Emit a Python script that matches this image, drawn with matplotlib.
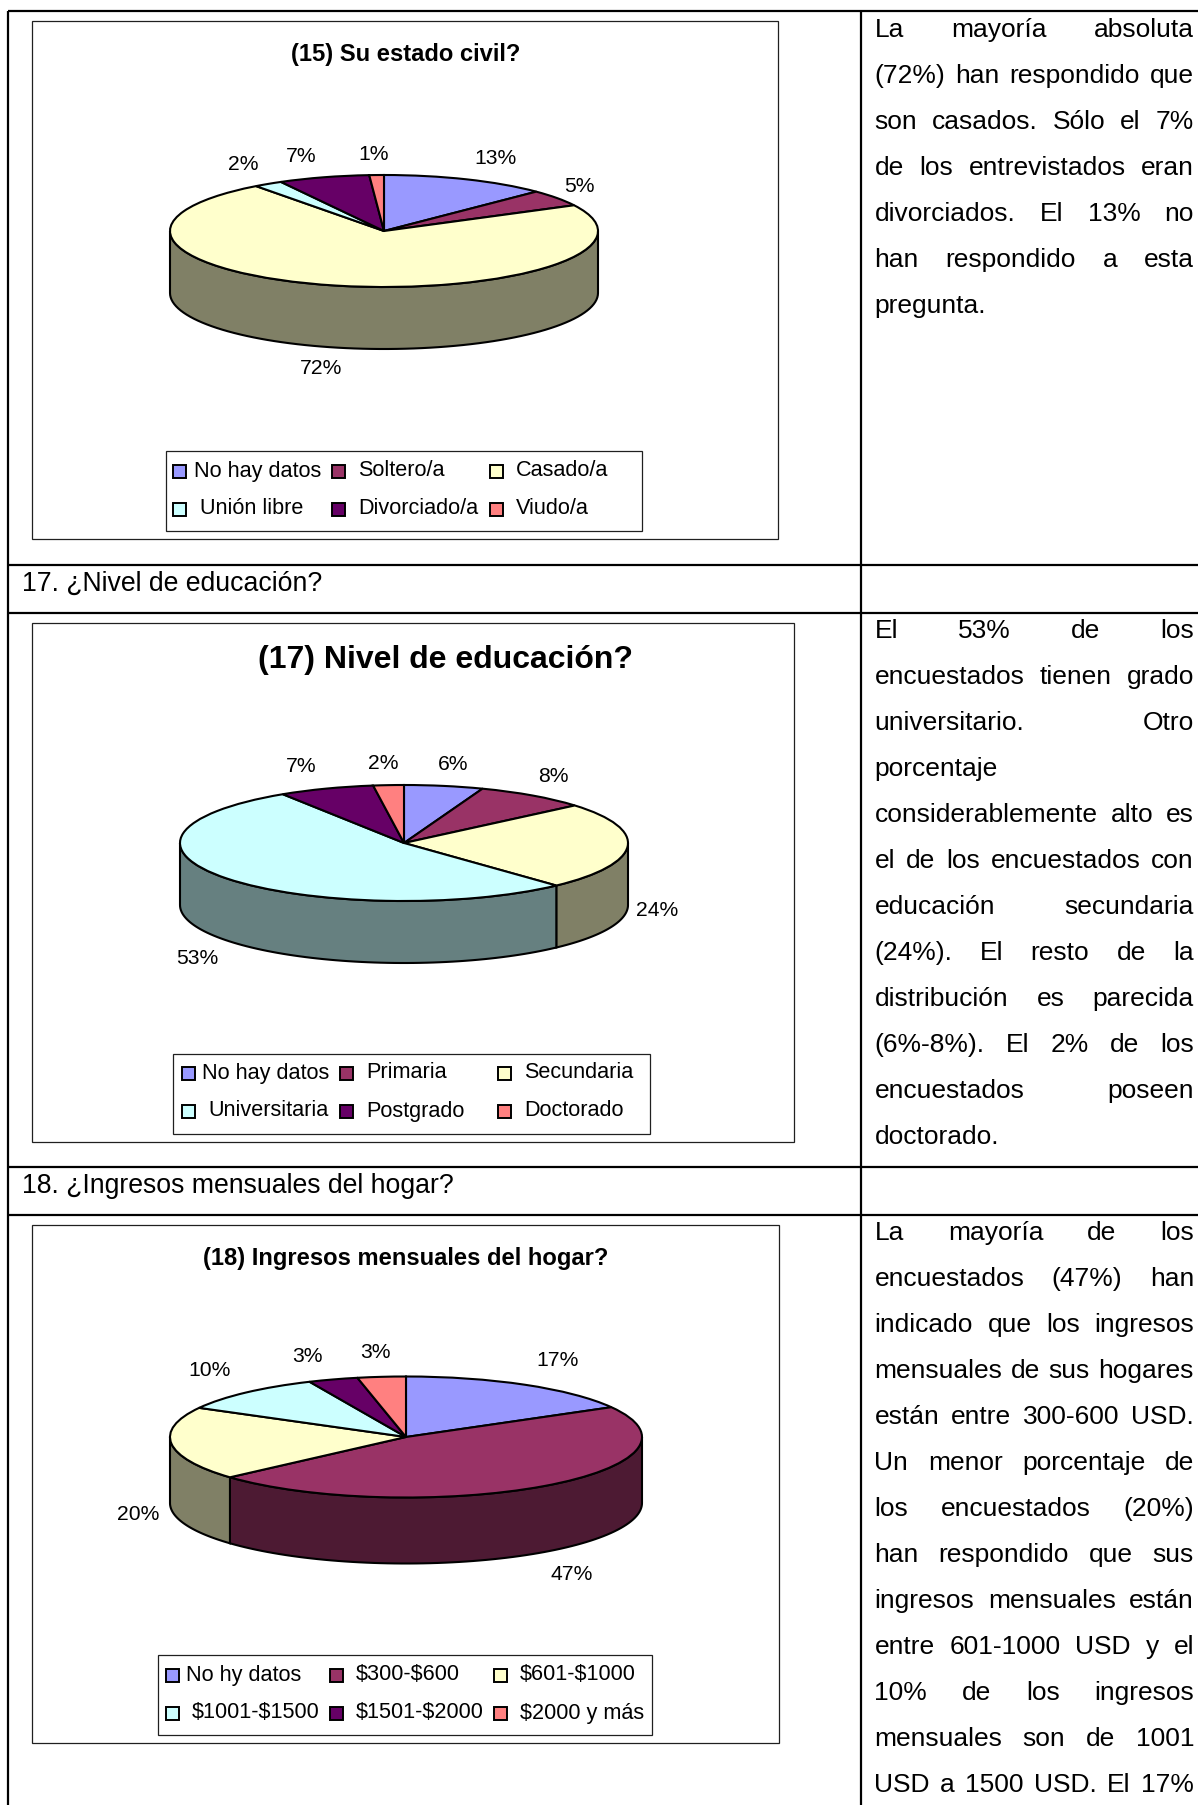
# -*- coding: utf-8 -*-
import numpy as np
import matplotlib
matplotlib.use('Agg')
import matplotlib.pyplot as plt
from matplotlib.patches import Rectangle

plt.rcParams['font.family'] = ['Liberation Sans', 'DejaVu Sans']

W, H = 1198, 1805

colors = ['#9999FF', '#993366', '#FFFFCC', '#CCFFFF', '#660066', '#FF8080']

title15 = '(15) Su estado civil?'
names15 = ['No hay datos', 'Soltero/a', 'Casado/a', 'Unión libre', 'Divorciado/a', 'Viudo/a']
vals15 = [12.6, 4.8, 72.4, 2.2, 6.9, 1.1]

title17 = '(17) Nivel de educación?'
names17 = ['No hay datos', 'Primaria', 'Secundaria', 'Universitaria', 'Postgrado', 'Doctorado']
vals17 = [5.7, 8.1, 24.3, 52.8, 6.9, 2.2]

title18 = '(18) Ingresos mensuales del hogar?'
names18 = ['No hy datos', '$300-$600', '$601-$1000', '$1001-$1500', '$1501-$2000', '$2000 y más']
vals18 = [16.8, 46.6, 19.6, 10.3, 3.4, 3.3]

row17 = '17. ¿Nivel de educación?'
row18 = '18. ¿Ingresos mensuales del hogar?'

# (text, justified)
text15 = [('La mayoría absoluta', 1), ('(72%) han respondido que', 1), ('son casados. Sólo el 7%', 1),
          ('de los entrevistados eran', 1), ('divorciados. El 13% no', 1), ('han respondido a esta', 1),
          ('pregunta.', 0)]
text17 = [('El 53% de los', 1), ('encuestados tienen grado', 1), ('universitario. Otro', 1),
          ('porcentaje', 0), ('considerablemente alto es', 1), ('el de los encuestados con', 1),
          ('educación secundaria', 1), ('(24%). El resto de la', 1), ('distribución es parecida', 1),
          ('(6%-8%). El 2% de los', 1), ('encuestados poseen', 1), ('doctorado.', 0)]
text18 = [('La mayoría de los', 1), ('encuestados (47%) han', 1), ('indicado que los ingresos', 1),
          ('mensuales de sus hogares', 1), ('están entre 300-600 USD.', 1), ('Un menor porcentaje de', 1),
          ('los encuestados (20%)', 1), ('han respondido que sus', 1), ('ingresos mensuales están', 1),
          ('entre 601-1000 USD y el', 1), ('10% de los ingresos', 1), ('mensuales son de 1001', 1),
          ('USD a 1500 USD. El 17%', 1)]

fig = plt.figure(figsize=(W / 100, H / 100), dpi=100)
page = fig.add_axes([0, 0, 1, 1], zorder=3)
page.set_xlim(0, W)
page.set_ylim(H, 0)
page.axis('off')
page.patch.set_alpha(0)

renderer = fig.canvas.get_renderer()


def text_width(s, size):
    t = page.text(0, 0, s, fontsize=size)
    w = t.get_window_extent(renderer).width
    t.remove()
    return w


def cell_text(lines, y0, size=19, left=874.5, right=1194, step=46):
    for i, (line, just) in enumerate(lines):
        y = y0 + i * step
        if not just:
            page.text(left, y, line, fontsize=size, va='baseline', color='black')
            continue
        words = line.split()
        widths = [text_width(w, size) for w in words]
        gap = (right - left - sum(widths)) / (len(words) - 1)
        x = left
        for w, ww in zip(words, widths):
            page.text(x, y, w, fontsize=size, va='baseline', color='black')
            x += ww + gap


def pie3d(values, cx, cy, rx, ry, depth):
    d = depth / ry
    x0 = cx - 1.25 * rx
    w = 2.5 * rx
    top = cy - 1.25 * ry
    h = (2.5 + d) * ry
    ax = fig.add_axes([x0 / W, 1 - (top + h) / H, w / W, h / H], zorder=2)
    wedges, _ = ax.pie(values, colors=colors, startangle=90, counterclock=False,
                       wedgeprops=dict(edgecolor='black', linewidth=1.5))
    for wedge, col in zip(wedges, colors):
        rgb = np.array(matplotlib.colors.to_rgb(col)) * 0.5
        for k in (-360, 0, 360):
            a = max(wedge.theta1 + k, 180)
            b = min(wedge.theta2 + k, 360)
            if b <= a:
                continue
            t = np.radians(np.linspace(a, b, 80))
            xs = np.r_[np.cos(t), np.cos(t[::-1])]
            ys = np.r_[np.sin(t), np.sin(t[::-1]) - d]
            ax.fill(xs, ys, facecolor=rgb, edgecolor='black', linewidth=1.5, zorder=0.5)
    ax.set_aspect('auto')
    ax.set_xlim(-1.25, 1.25)
    ax.set_ylim(-1.25 - d, 1.25)
    return ax


def chart(title, title_size, title_xy, frame, disc, values, label_xy, names, box, rows, marks, txt_x):
    x0, y0, x1, y1 = frame
    page.add_patch(Rectangle((x0, y0), x1 - x0, y1 - y0, fc='none', ec='#202020', lw=0.9))
    page.text(title_xy[0], title_xy[1], title, fontsize=title_size, fontweight='bold',
              ha='center', va='center')
    pie3d(values, *disc)
    for v, (lx, ly) in zip(values, label_xy):
        page.text(lx, ly, '%.0f%%' % v, fontsize=15.2, ha='center', va='center')
    bx0, by0, bx1, by1 = box
    page.add_patch(Rectangle((bx0, by0), bx1 - bx0, by1 - by0, fc='white', ec='#202020', lw=0.9))
    for i, name in enumerate(names):
        r, c = i // 3, i % 3
        page.add_patch(Rectangle((marks[c] - 6.5, rows[r] - 6.5), 13, 13, fc=colors[i], ec='black', lw=1.4))
        page.text(txt_x[i], rows[r], name, fontsize=15.6, ha='left', va='center', parse_math=False)


chart(title15, 17.1, (406, 54), (31.5, 21, 777.5, 539), (384, 231, 214, 56, 62), vals15,
      [(496, 158), (579, 186), (321, 368), (243.5, 164), (301, 156), (373.5, 154)],
      names15, (165.5, 451, 641.5, 531), (471, 509), (179, 338, 496),
      [194, 358, 516, 200, 358, 516])

chart(title17, 23, (445, 660), (31.5, 623, 794, 1141.5), (404, 843, 224, 58, 62), vals17,
      [(453, 765), (553, 776.5), (657, 911), (197, 958), (301, 767), (383, 763.5)],
      names17, (173, 1053.5, 650, 1133.5), (1073, 1111), (188, 346, 504),
      [202, 366, 524, 208, 366, 524])

chart(title18, 17.1, (406, 1258), (31.5, 1225, 779, 1743), (406, 1437, 236, 60.5, 66), vals18,
      [(558, 1360), (571.5, 1575), (138, 1515), (210, 1371), (307, 1357), (375, 1353)],
      names18, (157.5, 1655, 651.5, 1735), (1675, 1713), (172, 336, 500),
      [186.5, 355.5, 519.5, 192, 355.5, 519.5])

# table rules
for y in (11, 564.5, 612.5, 1166.5, 1215):
    page.plot([8, W], [y, y], color='black', lw=1.6, solid_capstyle='butt')
for x in (8, 861):
    page.plot([x, x], [11, H], color='black', lw=1.6, solid_capstyle='butt')

page.text(22, 584, row17, fontsize=19.2, va='center')
page.text(22, 1186, row18, fontsize=19.2, va='center')

cell_text(text15, 37)
cell_text(text17, 638)
cell_text(text18, 1240)

plt.savefig('out.png', dpi=100)
plt.close()
